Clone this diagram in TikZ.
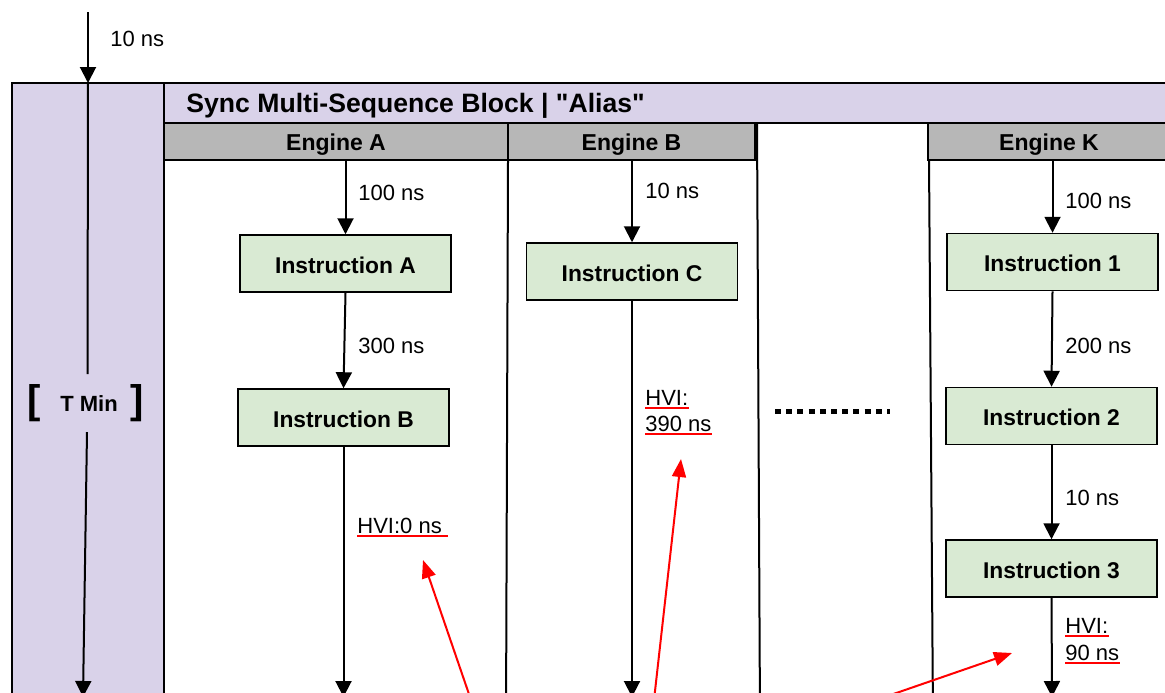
\documentclass[tikz,border=0pt]{standalone}
\usepackage{fontspec}
\setmainfont{Liberation Sans}[Ligatures=TeXOff]
\usetikzlibrary{arrows.meta}
\definecolor{lpurple}{HTML}{D9D2E9}
\definecolor{lgreen}{HTML}{D9EAD3}
\definecolor{hgray}{HTML}{B7B7B7}
\begin{document}
\begin{tikzpicture}[x=0.5pt,y=-0.5pt,
  arr/.style={line width=1pt,-{Triangle[length=8pt,width=8pt]}},
  redarr/.style={red,line width=1pt,-{Triangle[length=9pt,width=7pt]}},
  lbl/.style={font=\fontsize{11}{13}\selectfont,anchor=west,inner sep=0pt,text height=7.9pt,text depth=0pt},
  instr/.style={draw,line width=0.75pt,fill=lgreen,minimum width=105.5pt,minimum height=28.5pt,inner sep=0pt,
    font=\bfseries\fontsize{11.4}{13}\selectfont,text height=9.8pt,text depth=0pt},
  hdr/.style={draw,line width=1pt,fill=hgray,minimum height=18.5pt,inner sep=0pt,
    font=\bfseries\fontsize{11.5}{13}\selectfont,text height=8.6pt,text depth=0pt},
  ul/.style={red,line width=1pt},
  sep/.style={line width=1pt}]
\useasboundingbox (0,0) rectangle (1165,692);
\clip (0,0) rectangle (1165,692);
\fill[white] (0,0) rectangle (1165,692);

% left panel and title bar
\draw[line width=1pt,fill=lpurple] (12,83) rectangle (164,720);
\draw[line width=1.2pt,fill=lpurple] (164,83) rectangle (1180,123);
\node[font=\bfseries\fontsize{13.3}{15}\selectfont,anchor=west,inner sep=0pt,text height=9.5pt,text depth=0pt] (title) at (186,103) {Sync Multi-Sequence Block | "Alias"};

% engine headers
\node[hdr,minimum width=172pt] (hdrA) at (336,141.5) {Engine A};
\node[hdr,minimum width=123.5pt] (hdrB) at (631.5,141.5) {Engine B};
\node[hdr,minimum width=121pt] (hdrK) at (1049,141.5) {Engine K};

% column separators
\draw[sep] (508,160) -- (506,720);
\draw[sep] (757,123) -- (760,720);
\draw[sep] (929,160) -- (933,720);

% top arrow
\coordinate (top0) at (88,12);
\coordinate (panelTop) at (88,83);
\draw[arr] (top0) -- (panelTop);
\node[lbl] (l10) at (110,39) {10 ns};

% T Min
\node[font=\bfseries\fontsize{11}{13}\selectfont,inner sep=0pt,text height=7.9pt,text depth=0pt] (tmin) at (89,404) {T Min};
\node[font=\bfseries\fontsize{20}{22}\selectfont,inner sep=0pt] (lbr) at (34,403) {[};
\node[font=\bfseries\fontsize{20}{22}\selectfont,inner sep=0pt] (rbr) at (137,403) {]};
\coordinate (tminTop) at (87.5,374);
\coordinate (tminBot0) at (87,432);
\coordinate (tminBot) at (83,697);
\draw[line width=1pt] (panelTop) -- (tminTop);
\draw[arr] (tminBot0) -- (tminBot);

% Engine A
\node[instr] (insA) at (345.5,263.5) {Instruction A};
\node[instr] (insB) at (343.5,417.5) {Instruction B};
\coordinate (botA) at (343.5,697);
\draw[arr] (insA.north |- hdrA.south) -- (insA.north);
\node[lbl] (a100) at (358,193) {100 ns};
\draw[arr] (insA.south) -- (insB.north);
\node[lbl] (a300) at (358,346) {300 ns};
\draw[arr] (insB.south) -- (botA);
\node[lbl] (hA) at (357,526) {HVI:0 ns\ \ };
\draw[ul] ([yshift=-1pt]hA.south west) -- ([yshift=-1pt]hA.south east);

% Engine B
\node[instr] (insC) at (632,271.5) {Instruction C};
\coordinate (botB) at (632,697);
\draw[arr] (insC.north |- hdrB.south) -- (insC.north);
\node[lbl] (b10) at (645,191) {10 ns};
\draw[arr] (insC.south) -- (botB);
\node[lbl] (hB1) at (645,398) {HVI:};
\node[lbl] (hB2) at (645,424) {390 ns};
\draw[ul] ([yshift=-1pt]hB1.south west) -- ([yshift=-1pt]hB1.south east);
\draw[ul] ([yshift=-1pt]hB2.south west) -- ([yshift=-1pt]hB2.south east);

% dots
\coordinate (d0) at (775,411);
\coordinate (d1) at (890,411);
\draw[line width=2.5pt,dash pattern=on 3pt off 2.6pt] (d0) -- (d1);

% Engine K
\node[instr] (ins1) at (1052.5,262) {Instruction 1};
\node[instr] (ins2) at (1051.5,416) {Instruction 2};
\node[instr] (ins3) at (1051.5,568.5) {Instruction 3};
\coordinate (botK) at (1052,697);
\draw[arr] (ins1.north |- hdrK.south) -- (ins1.north);
\node[lbl] (k100) at (1065,201) {100 ns};
\draw[arr] (ins1.south) -- (ins2.north);
\node[lbl] (k200) at (1065,346) {200 ns};
\draw[arr] (ins2.south) -- (ins3.north);
\node[lbl] (k10) at (1065,498) {10 ns};
\draw[arr] (ins3.south) -- (botK);
\node[lbl] (hK1) at (1065,626) {HVI:\ };
\node[lbl] (hK2) at (1065,653) {90 ns};
\draw[ul] ([yshift=-1pt]hK1.south west) -- ([yshift=-1pt]hK1.south east);
\draw[ul] ([yshift=-1pt]hK2.south west) -- ([yshift=-1pt]hK2.south east);

% red arrows
\coordinate (rA0) at (471,700);
\coordinate (rA1) at (423,560);
\coordinate (rB0) at (654,700);
\coordinate (rB1) at (681,459);
\coordinate (rK0) at (876,700);
\coordinate (rK1) at (1012,653);
\draw[redarr] (rA0) -- (rA1);
\draw[redarr] (rB0) -- (rB1);
\draw[redarr] (rK0) -- (rK1);
\end{tikzpicture}
\end{document}
